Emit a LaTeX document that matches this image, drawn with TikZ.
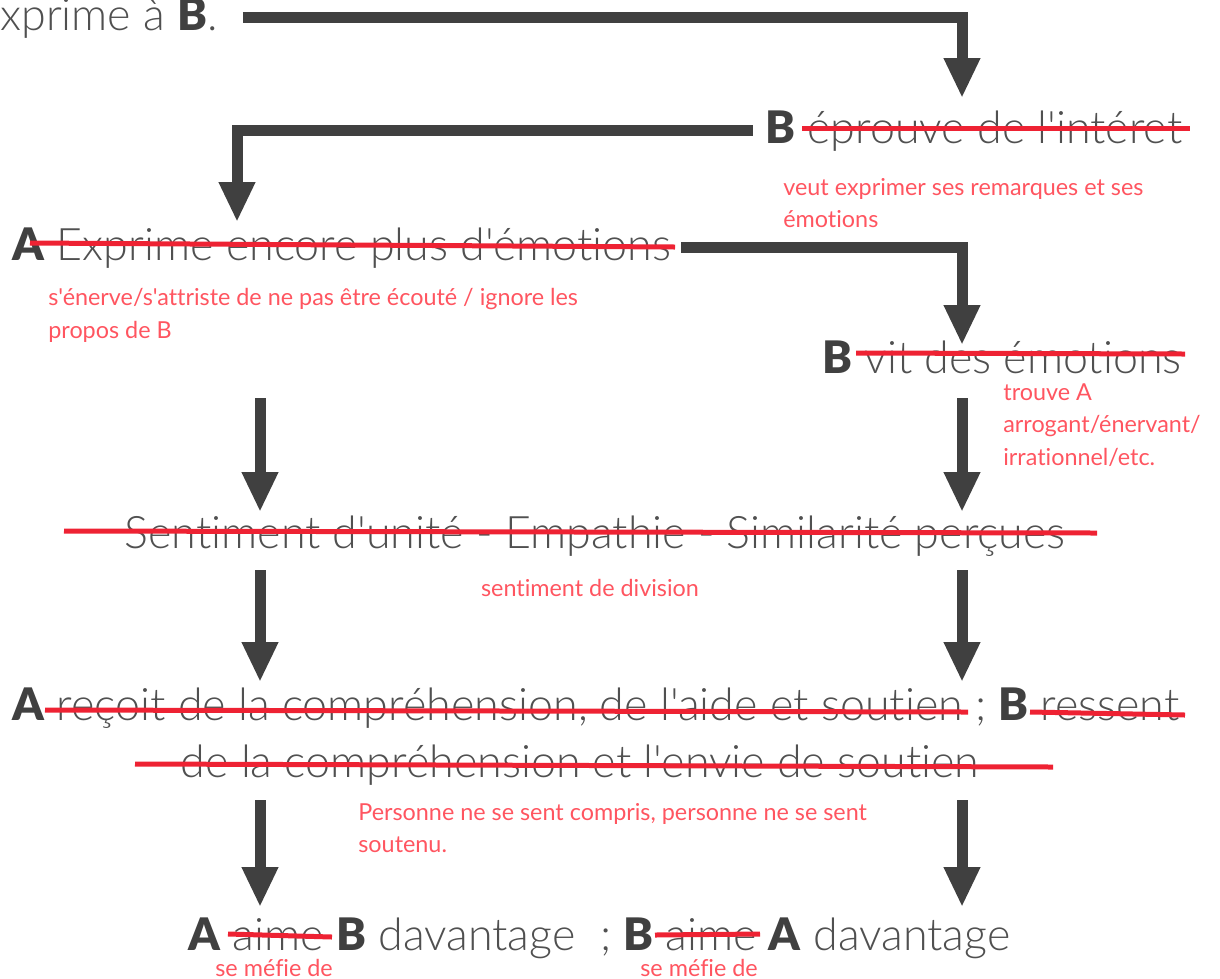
\documentclass[tikz,border=0pt]{standalone}
\usepackage{fontspec}
\setmainfont{Lato}[UprightFont=* Light, BoldFont=* Black, Ligatures={NoCommon, TeXOff}]
\newfontfamily\notefont{Lato}[Ligatures={NoCommon, TeXOff}]
\usetikzlibrary{arrows.meta}

\definecolor{arrowgray}{HTML}{404040}
\definecolor{textgray}{HTML}{505050}
\definecolor{notered}{HTML}{FF5560}
\definecolor{strikered}{HTML}{EE2233}

\tikzset{
	txt/.style={inner sep=0pt, text=textgray, font=\fontsize{25.5}{30}\selectfont},
	note/.style={inner sep=0pt, text=notered, align=left, font=\notefont\fontsize{13.3}{18.5}\selectfont},
	flow/.style={draw=arrowgray, line width=0.22cm, -{Triangle[length=0.8cm, width=0.68cm]}},
	strike/.style={draw=strikered, line width=0.1cm},
}
\newcommand{\AB}[1]{{\color{arrowgray}\textbf{#1}}}

\begin{document}
\begin{tikzpicture}[x=0.02cm, y=-0.02cm]
	\useasboundingbox (0,0) rectangle (1220,978);

	% les phrases
	\node[txt, anchor=base east] (t0) at (218,30) {exprime à \AB{B}.};
	\node[txt, anchor=base west] (t1) at (765,143) {\AB{B} éprouve de l'intéret};
	\node[txt, anchor=base west] (t2) at (12,260) {\AB{A} Exprime encore plus d'émotions};
	\node[txt, anchor=base west] (t3) at (822,373) {\AB{B} vit des émotions};
	\node[txt, anchor=base] (t4) at (595,548) {Sentiment d'unité - Empathie - Similarité perçues};
	\node[txt, anchor=base west] (t5a) at (12,720) {\AB{A} reçoit de la compréhension, de l'aide et soutien ; \AB{B} ressent};
	\node[txt, anchor=base] (t5b) at (580,777) {de la compréhension et l'envie de soutien};
	\node[txt, anchor=base west] (t6) at (188,950) {\AB{A} aime \AB{B} davantage\; ; \AB{B} aime \AB{A} davantage};

	% les remarques
	\node[note, anchor=north west] (n1) at (783,178) {veut exprimer ses remarques et ses\\émotions};
	\node[note, anchor=north west] (n2) at (48,288) {s'énerve/s'attriste de ne pas être écouté / ignore les\\propos de B};
	\node[note, anchor=north west] (n3) at (1003,383) {trouve A\\arrogant/énervant/\\irrationnel/etc.};
	\node[note] (n4) at (590,588) {sentiment de division};
	\node[note, anchor=north west] (n5) at (358,803) {Personne ne se sent compris, personne ne se sent\\soutenu.};
	\node[note, anchor=north west] (n6a) at (215,959) {se méfie de};
	\node[note, anchor=north west] (n6b) at (640,959) {se méfie de};

	% les flèches
	\coordinate (p1) at (962,98);
	\coordinate (p2) at (237,222);
	\coordinate (p3) at (962,345);
	\draw[flow] ([xshift=0.5cm]t0.east) -| (p1);
	\draw[flow] ([xshift=-0.25cm]t1.west) -| (p2);
	\draw[flow] ([xshift=0.2cm]t2.east) -| (p3);

	\coordinate (l1) at (260,398);
	\coordinate (l2) at (260,512);
	\coordinate (l3) at (260,570);
	\coordinate (l4) at (260,682);
	\coordinate (l5) at (260,800);
	\coordinate (l6) at (260,907);
	\coordinate (r1) at (962,398);
	\coordinate (r2) at (962,512);
	\coordinate (r3) at (962,570);
	\coordinate (r4) at (962,682);
	\coordinate (r5) at (962,800);
	\coordinate (r6) at (962,907);
	\draw[flow] (l1) -- (l2);
	\draw[flow] (l3) -- (l4);
	\draw[flow] (l5) -- (l6);
	\draw[flow] (r1) -- (r2);
	\draw[flow] (r3) -- (r4);
	\draw[flow] (r5) -- (r6);

	% les ratures
	\draw[strike] (802,128) -- (1190,128);
	\draw[strike] (30,243) -- (675,247);
	\draw[strike] (856,353) -- (1185,354);
	\draw[strike] (64,531) -- (1097,533);
	\draw[strike] (45,710) -- (968,712);
	\draw[strike] (1030,712) -- (1185,715);
	\draw[strike] (135,764) -- (1053,767);
	\draw[strike] (228,934) -- (332,937);
	\draw[strike] (655,935) -- (760,934);
\end{tikzpicture}
\end{document}
